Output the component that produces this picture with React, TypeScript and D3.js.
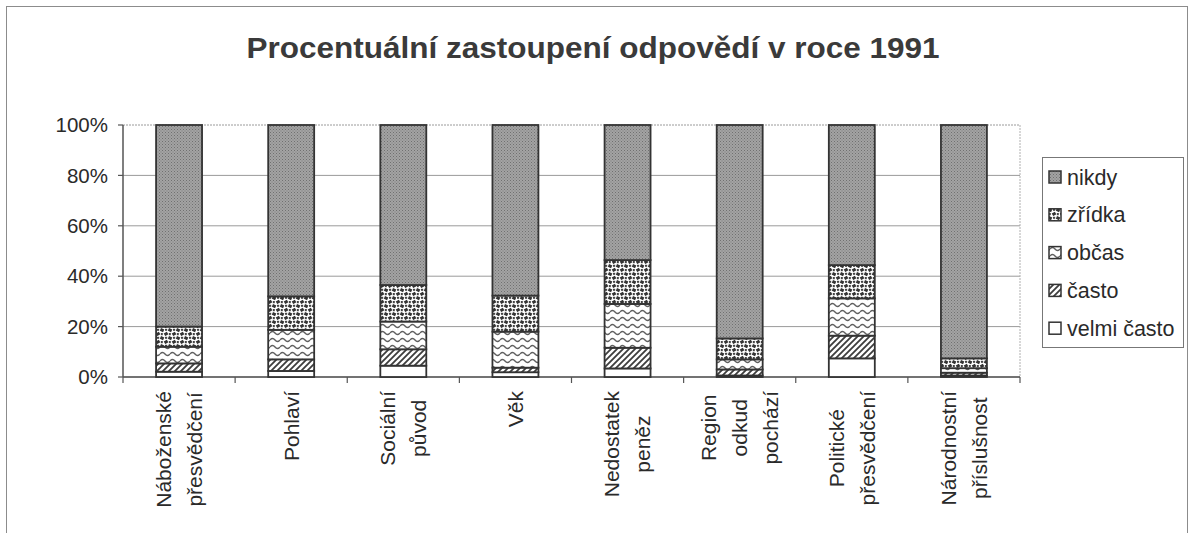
import React, { useMemo } from "react";
import * as d3 from "d3";

const categories: string[][] = [
  ["Náboženské", "přesvědčení"],
  ["Pohlaví"],
  ["Sociální", "původ"],
  ["Věk"],
  ["Nedostatek", "peněz"],
  ["Region", "odkud", "pochází"],
  ["Politické", "přesvědčení"],
  ["Národnostní", "příslušnost"],
];

const seriesNames = ["velmi často", "často", "občas", "zřídka", "nikdy"];

const velmiCasto = [2.1, 2.4, 4.5, 1.9, 3.4, 0.6, 7.4, 0.6];
const casto = [3.3, 4.6, 6.5, 1.8, 8.2, 2.4, 9.0, 1.1];
const obcas = [6.6, 11.7, 11.0, 14.3, 17.4, 4.0, 14.8, 1.8];
const zridka = [8.0, 13.3, 14.5, 14.3, 17.4, 8.3, 13.2, 3.9];
const nikdy = [80.0, 68.0, 63.5, 67.7, 53.6, 84.7, 55.6, 92.6];

const yTicks = [0, 20, 40, 60, 80, 100];

const W = 1194;
const H = 533;
const plot = { left: 123, right: 1020, top: 125, bottom: 377 };
const FONT = "'Liberation Sans', Arial, sans-serif";
const TEXT = "#2a2a2a";

const fills = ["#ffffff", "url(#pCasto)", "url(#pObcas)", "url(#pZridka)", "url(#pNikdy)"];

function measure(text: string, font: string): number {
  const c = document.createElement("canvas");
  const ctx = c.getContext("2d");
  if (!ctx) return text.length * 10;
  ctx.font = font;
  return ctx.measureText(text).width;
}

export default function App() {
  const values = [velmiCasto, casto, obcas, zridka, nikdy];
  const rows = categories.map((c, i) => {
    const r: any = { key: i };
    seriesNames.forEach((s, k) => (r[s] = values[k][i]));
    return r;
  });
  const stacked = d3.stack<any>().keys(seriesNames).offset(d3.stackOffsetExpand)(rows);

  const x = d3
    .scaleBand<number>()
    .domain(categories.map((_, i) => i))
    .range([plot.left, plot.right])
    .paddingInner(0.59)
    .paddingOuter(0.295);
  const y = d3.scaleLinear().domain([0, 1]).range([plot.bottom, plot.top]);
  const step = x.step();

  const labelFont = `21px ${FONT}`;
  const widths = useMemo(
    () => categories.map((lines) => Math.max(...lines.map((l) => measure(l, labelFont)))),
    []
  );

  const legendItems = [...seriesNames].reverse();
  const legendFills = [...fills].reverse();

  return (
    <svg width={W} height={H} style={{ position: "absolute", left: 0, top: 0, background: "#fff" }}>
      <defs>
        <pattern id="pNikdy" width="3" height="3" patternUnits="userSpaceOnUse">
          <rect width="3" height="3" fill="#a3a3a3" />
          <rect x="0" y="0" width="1" height="1" fill="#707070" />
          <rect x="1.5" y="1.5" width="1" height="1" fill="#7d7d7d" />
        </pattern>
        <pattern id="pZridka" width="8" height="8" patternUnits="userSpaceOnUse">
          <rect width="8" height="8" fill="#ffffff" />
          <rect x="0.3" y="0.6" width="3.6" height="3" fill="#333" transform="rotate(25 2 2)" />
          <rect x="4.3" y="4.4" width="3.6" height="3" fill="#333" transform="rotate(-30 6 6)" />
          <rect x="5" y="0.8" width="2.2" height="2" fill="#444" />
          <rect x="0.8" y="5" width="2" height="2.2" fill="#444" />
        </pattern>
        <pattern id="pObcas" width="10" height="7" patternUnits="userSpaceOnUse">
          <rect width="10" height="7" fill="#ffffff" />
          <path d="M0 4 Q2.5 1 5 4 T10 4" fill="none" stroke="#606060" strokeWidth="1.4" />
        </pattern>
        <pattern id="pCasto" width="6" height="6" patternUnits="userSpaceOnUse">
          <rect width="6" height="6" fill="#ffffff" />
          <path d="M-1 7 L7 -1 M-4 4 L4 -4 M2 10 L10 2" stroke="#3d3d3d" strokeWidth="1.8" />
        </pattern>
      </defs>

      <rect x={6.5} y={6.5} width={1181} height={540} fill="#fff" stroke="#8c8c8c" strokeWidth={1} />

      <text
        x={593}
        y={58}
        textAnchor="middle"
        fontFamily={FONT}
        fontWeight="bold"
        fontSize={30}
        textLength={693}
        lengthAdjust="spacingAndGlyphs"
        fill="#3a3a3a"
      >
        Procentuální zastoupení odpovědí v roce 1991
      </text>

      {/* gridlines */}
      {yTicks.map((t) => (
        <line
          key={t}
          x1={plot.left}
          x2={plot.right}
          y1={y(t / 100)}
          y2={y(t / 100)}
          stroke="#9a9a9a"
          strokeWidth={1}
          strokeDasharray={t === 100 ? "2 1" : undefined}
        />
      ))}
      <line x1={plot.right} x2={plot.right} y1={plot.top} y2={plot.bottom} stroke="#b0b0b0" strokeDasharray="2 1" />

      {/* y axis */}
      <line x1={plot.left} x2={plot.left} y1={plot.top} y2={plot.bottom} stroke="#555" strokeWidth={1.5} />
      {yTicks.map((t) => (
        <g key={t}>
          <line x1={plot.left - 5} x2={plot.left} y1={y(t / 100)} y2={y(t / 100)} stroke="#555" strokeWidth={1.2} />
          <text
            x={108}
            y={y(t / 100)}
            dy="0.35em"
            textAnchor="end"
            fontFamily={FONT}
            fontSize={20.5}
            fill={TEXT}
          >
            {t}%
          </text>
        </g>
      ))}

      {/* x axis */}
      <line x1={plot.left} x2={plot.right} y1={plot.bottom} y2={plot.bottom} stroke="#555" strokeWidth={1.5} />
      {d3.range(categories.length + 1).map((k) => (
        <line
          key={k}
          x1={plot.left + k * step}
          x2={plot.left + k * step}
          y1={plot.bottom}
          y2={plot.bottom + 6}
          stroke="#555"
          strokeWidth={1.2}
        />
      ))}

      {/* bars */}
      {stacked.map((layer, k) => (
        <g key={layer.key}>
          {layer.map((d, i) => (
            <rect
              key={i}
              x={x(i)!}
              width={x.bandwidth()}
              y={y(d[1])}
              height={Math.max(0, y(d[0]) - y(d[1]))}
              fill={fills[k]}
              stroke="#333"
              strokeWidth={1.8}
            />
          ))}
        </g>
      ))}

      {/* category labels */}
      {categories.map((lines, i) => {
        const cx = x(i)! + x.bandwidth() / 2;
        const cy = 391 + widths[i] / 2;
        return lines.map((l, j) => {
          const lx = cx + (j - (lines.length - 1) / 2) * 31;
          return (
            <text
              key={`${i}-${j}`}
              transform={`translate(${lx},${cy}) rotate(-90)`}
              dy="0.35em"
              textAnchor="middle"
              fontFamily={FONT}
              fontSize={21}
              fill={TEXT}
            >
              {l}
            </text>
          );
        });
      })}

      {/* legend */}
      <rect x={1042.5} y={157.5} width={141} height={190} fill="#fff" stroke="#777" strokeWidth={1} />
      {legendItems.map((s, k) => {
        const cy = 177 + k * 37.8;
        return (
          <g key={s}>
            <rect x={1049} y={cy - 6} width={12} height={12} fill={legendFills[k]} stroke="#333" strokeWidth={1.5} />
            <text x={1067} y={cy} dy="0.35em" fontFamily={FONT} fontSize={21.5} fill={TEXT}>
              {s}
            </text>
          </g>
        );
      })}
    </svg>
  );
}
